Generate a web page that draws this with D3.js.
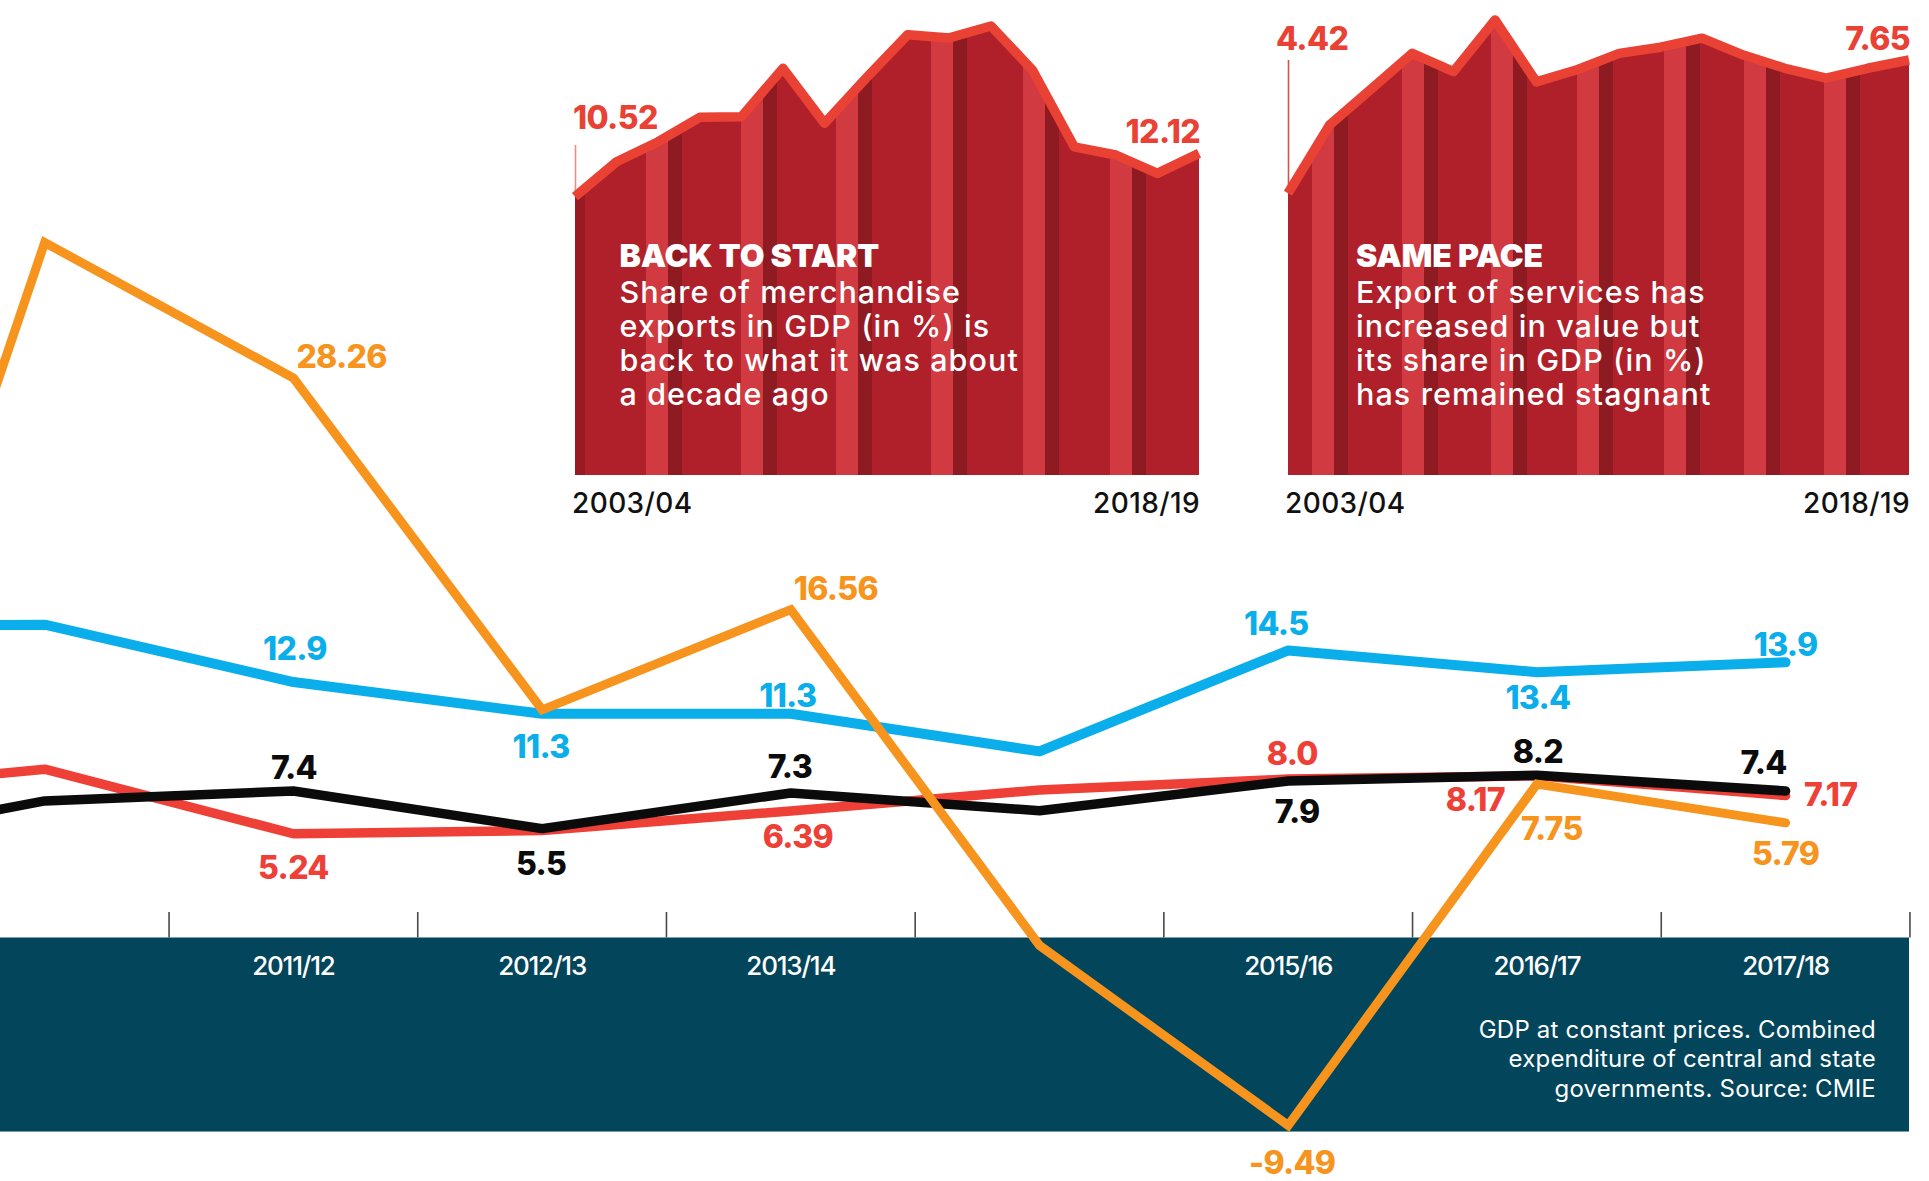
<!DOCTYPE html>
<html>
<head>
<meta charset="utf-8">
<script src="https://cdn.jsdelivr.net/npm/d3@7"></script>
<style>
  html, body { margin: 0; padding: 0; background: #ffffff; }
  svg { display: block; }
  text { font-family: Inter, Roboto, "Noto Sans", sans-serif; }
</style>
</head>
<body>
<svg id="chart" width="1929" height="1181"></svg>
<script>
// ---------- Main chart data (per cent) ----------
const categories = ["2009/10", "2010/11", "2011/12", "2012/13", "2013/14", "2014/15", "2015/16", "2016/17", "2017/18"];
const orangeValues = [-2.0, 35.1, 28.26, 11.5, 16.56, -0.4, -9.49, 7.75, 5.79];
const blueValues   = [15.7, 15.8, 12.9, 11.3, 11.3, 9.4, 14.5, 13.4, 13.9];
const redValues    = [7.3, 8.5, 5.24, 5.4, 6.39, 7.45, 8.0, 8.17, 7.17];
const blackValues  = [4.5, 6.9, 7.4, 5.5, 7.3, 6.4, 7.9, 8.2, 7.4];
const tickCategories  = ["2010/11", "2011/12", "2012/13", "2013/14", "2014/15", "2015/16", "2016/17", "2017/18"];
const axisLabels      = ["2011/12", "2012/13", "2013/14", "2015/16", "2016/17", "2017/18"];
const footnoteLines   = ["GDP at constant prices. Combined", "expenditure of central and state", "governments. Source: CMIE"];

// ---------- Inset data: share in GDP (%) ----------
const insetYears = ["2003/04", "2004/05", "2005/06", "2006/07", "2007/08", "2008/09", "2009/10", "2010/11",
                    "2011/12", "2012/13", "2013/14", "2014/15", "2015/16", "2016/17", "2017/18", "2018/19"];
const merchandiseShare = [10.52, 11.81, 12.55, 13.45, 13.47, 15.26, 13.23, 14.9, 16.5, 16.38, 16.82, 15.19, 12.36, 12.06, 11.38, 12.12];
const servicesShare    = [4.42, 6.07, 6.94, 7.81, 7.37, 8.62, 7.12, 7.42, 7.81, 7.96, 8.18, 7.77, 7.45, 7.21, 7.45, 7.65];
const merchandiseTitle = "BACK TO START";
const merchandiseText  = ["Share of merchandise", "exports in GDP (in %) is", "back to what it was about", "a decade ago"];
const servicesTitle    = "SAME PACE";
const servicesText     = ["Export of services has", "increased in value but", "its share in GDP (in %)", "has remained stagnant"];

// ---------- Styling ----------
const COLORS = {
  orange: "#f6941d", blue: "#0aaeea", red: "#ee4036", black: "#0b0b0b",
  band: "#03455a", tick: "#4a4a4a",
  areaBase: "#b0202a", areaLight: "#d03a40", areaDark: "#8e1a22", areaLine: "#ea4135"
};

const fmtLocale = d3.formatLocale({ decimal: ".", thousands: ",", grouping: [3], currency: ["", ""], minus: "-" });
const fmt = digits => fmtLocale.format(`.${digits}f`);

const svg = d3.select("#chart");

// ---------- Scales for the main chart ----------
const x = d3.scalePoint().domain(categories).range([-204, 1785.6]);
const step = x.step();
const y = d3.scaleLinear().domain([0, 10]).range([937.5, 739.5]);

// Negative zone band
svg.append("rect")
  .attr("x", 0).attr("width", 1909)
  .attr("y", y(0)).attr("height", y(-9.8) - y(0))
  .attr("fill", COLORS.band);

// Ticks between categories
svg.append("g").selectAll("line").data(tickCategories).join("line")
  .attr("x1", d => x(d) + step / 2).attr("x2", d => x(d) + step / 2)
  .attr("y1", 912).attr("y2", y(0))
  .attr("stroke", COLORS.tick).attr("stroke-width", 1.6);

// Category labels inside band
svg.append("g").selectAll("text").data(axisLabels).join("text")
  .attr("x", d => x(d)).attr("y", 975)
  .attr("text-anchor", "middle")
  .attr("fill", "#ffffff")
  .attr("font-size", 26).attr("font-weight", 500).attr("letter-spacing", -1.2)
  .text(d => d);

// Footnote
svg.append("g").selectAll("text").data(footnoteLines).join("text")
  .attr("x", 1876).attr("y", (d, i) => 1038 + i * 29.3)
  .attr("text-anchor", "end")
  .attr("fill", "#ffffff")
  .attr("font-size", 24).attr("font-weight", 400).attr("letter-spacing", 0.2)
  .text(d => d);

// Lines
const series = [
  { key: "blue",   values: blueValues,   width: 10, join: "round" },
  { key: "red",    values: redValues,    width: 9.5, join: "round" },
  { key: "black",  values: blackValues,  width: 9.5, join: "round" },
  { key: "orange", values: orangeValues, width: 9, join: "miter" }
];
const line = d3.line().x((d, i) => x(categories[i])).y(d => y(d));
svg.append("g").selectAll("path").data(series).join("path")
  .attr("d", s => line(s.values))
  .attr("fill", "none")
  .attr("stroke", s => COLORS[s.key])
  .attr("stroke-width", s => s.width)
  .attr("stroke-linejoin", s => s.join)
  .attr("stroke-linecap", "round");

// Value labels: placement relative to each point (baseline offsets)
const valuesByKey = { orange: orangeValues, blue: blueValues, red: redValues, black: blackValues };
const labelPlacement = [
  { key: "orange", cat: "2011/12", digits: 2, anchor: "start",  dx: 3,    dy: -9.5 },
  { key: "blue",   cat: "2011/12", digits: 1, anchor: "middle", dx: 1.5,  dy: -22.5 },
  { key: "black",  cat: "2011/12", digits: 1, anchor: "middle", dx: 0.5,  dy: -12.4 },
  { key: "red",    cat: "2011/12", digits: 2, anchor: "middle", dx: 0,    dy: 45.4 },
  { key: "blue",   cat: "2012/13", digits: 1, anchor: "middle", dx: -1,   dy: 43.8 },
  { key: "black",  cat: "2012/13", digits: 1, anchor: "middle", dx: -1,   dy: 46 },
  { key: "orange", cat: "2013/14", digits: 2, anchor: "start",  dx: 3,    dy: -10 },
  { key: "blue",   cat: "2013/14", digits: 1, anchor: "middle", dx: -3,   dy: -7.2 },
  { key: "black",  cat: "2013/14", digits: 1, anchor: "middle", dx: -1,   dy: -14.7 },
  { key: "red",    cat: "2013/14", digits: 2, anchor: "middle", dx: 7,    dy: 36.6 },
  { key: "blue",   cat: "2015/16", digits: 1, anchor: "middle", dx: -12,  dy: -15.4 },
  { key: "red",    cat: "2015/16", digits: 1, anchor: "middle", dx: 4,    dy: -14 },
  { key: "black",  cat: "2015/16", digits: 1, anchor: "middle", dx: 9,    dy: 41.5 },
  { key: "orange", cat: "2015/16", digits: 2, anchor: "middle", dx: 4,    dy: 48.7 },
  { key: "blue",   cat: "2016/17", digits: 1, anchor: "middle", dx: 1,    dy: 37 },
  { key: "black",  cat: "2016/17", digits: 1, anchor: "middle", dx: 1,    dy: -12.5 },
  { key: "red",    cat: "2016/17", digits: 2, anchor: "end",    dx: -32,  dy: 35 },
  { key: "orange", cat: "2016/17", digits: 2, anchor: "start",  dx: -16,  dy: 55.5 },
  { key: "blue",   cat: "2017/18", digits: 1, anchor: "middle", dx: 0,    dy: -6.7 },
  { key: "black",  cat: "2017/18", digits: 1, anchor: "middle", dx: -22,  dy: -17 },
  { key: "red",    cat: "2017/18", digits: 2, anchor: "start",  dx: 18.5, dy: 10 },
  { key: "orange", cat: "2017/18", digits: 2, anchor: "middle", dx: 0,    dy: 41.7 }
];
svg.append("g").selectAll("text").data(labelPlacement).join("text")
  .attr("x", d => x(d.cat) + d.dx)
  .attr("y", d => y(valuesByKey[d.key][categories.indexOf(d.cat)]) + d.dy)
  .attr("text-anchor", d => d.anchor)
  .attr("fill", d => COLORS[d.key])
  .attr("font-size", 32).attr("font-weight", 800).attr("letter-spacing", -0.7)
  .text(d => fmt(d.digits)(valuesByKey[d.key][categories.indexOf(d.cat)]));

// ---------- Inset area charts ----------
const defs = svg.append("defs");

function drawInset(cfg) {
  const ix = d3.scalePoint().domain(insetYears).range([cfg.left, cfg.right]);
  const iy = d3.scaleLinear().domain(cfg.domain).range(cfg.range);
  const area = d3.area().x((d, i) => ix(insetYears[i])).y0(cfg.bottom).y1(d => iy(d));
  const topLine = d3.line().x((d, i) => ix(insetYears[i])).y(d => iy(d));

  defs.append("clipPath").attr("id", cfg.id)
    .append("path").attr("d", area(cfg.values));

  const g = svg.append("g");
  const body = g.append("g").attr("clip-path", `url(#${cfg.id})`);
  body.append("rect")
    .attr("x", cfg.left).attr("y", 0)
    .attr("width", cfg.right - cfg.left + 2).attr("height", cfg.bottom)
    .attr("fill", COLORS.areaBase);
  if (cfg.edge) {
    body.append("rect").attr("x", cfg.left).attr("y", 0).attr("width", cfg.edge)
      .attr("height", cfg.bottom).attr("fill", COLORS.areaDark).attr("opacity", 0.7);
  }
  cfg.stripes.forEach(o => {
    body.append("rect").attr("x", cfg.left + o).attr("y", 0).attr("width", 22)
      .attr("height", cfg.bottom).attr("fill", COLORS.areaLight);
    body.append("rect").attr("x", cfg.left + o + 22).attr("y", 0).attr("width", 14)
      .attr("height", cfg.bottom).attr("fill", COLORS.areaDark);
  });

  // start marker rule
  g.append("line")
    .attr("x1", cfg.left + 0.5).attr("x2", cfg.left + 0.5)
    .attr("y1", cfg.ruleTop).attr("y2", iy(cfg.values[0]))
    .attr("stroke", cfg.ruleColor).attr("stroke-width", 1.6);

  g.append("path").attr("d", topLine(cfg.values))
    .attr("fill", "none").attr("stroke", COLORS.areaLine)
    .attr("stroke-width", 9.5).attr("stroke-linejoin", "round").attr("stroke-linecap", "butt");

  // first and last values
  g.append("text").attr("x", cfg.firstX).attr("y", cfg.firstY)
    .attr("fill", COLORS.areaLine).attr("font-size", 32).attr("font-weight", 800).attr("letter-spacing", -0.6)
    .text(fmt(2)(cfg.values[0]));
  g.append("text").attr("x", cfg.right + 1).attr("y", cfg.lastY).attr("text-anchor", "end")
    .attr("fill", COLORS.areaLine).attr("font-size", 32).attr("font-weight", 800).attr("letter-spacing", -0.6)
    .text(fmt(2)(cfg.values[cfg.values.length - 1]));

  // year labels below
  g.append("text").attr("x", cfg.left - 3).attr("y", 513)
    .attr("fill", "#111").attr("font-size", 28).attr("font-weight", 500).attr("letter-spacing", 0.4)
    .text(insetYears[0]);
  g.append("text").attr("x", cfg.right + 1).attr("y", 513).attr("text-anchor", "end")
    .attr("fill", "#111").attr("font-size", 28).attr("font-weight", 500).attr("letter-spacing", 0.4)
    .text(insetYears[insetYears.length - 1]);

  // caption: heading and body lines
  g.append("text")
    .attr("x", cfg.textX).attr("y", 266.5)
    .attr("fill", "#ffffff")
    .attr("font-size", 32).attr("font-weight", 900).attr("letter-spacing", -0.1)
    .text(cfg.title);
  g.append("g").selectAll("text").data(cfg.text).join("text")
    .attr("x", cfg.textX)
    .attr("y", (d, i) => 303 + i * 34.1)
    .attr("fill", "#ffffff")
    .attr("font-size", 30.5).attr("font-weight", 500).attr("letter-spacing", 1.1)
    .text(d => d);
}

drawInset({
  id: "clip-merch", values: merchandiseShare, title: merchandiseTitle, text: merchandiseText,
  left: 575, right: 1199, bottom: 475,
  domain: [0, 17], range: [481.8, 21.1],
  stripes: [71, 166, 261, 356, 448, 535], edge: 10,
  ruleTop: 145, ruleColor: "#f08a86",
  firstX: 573, firstY: 128.5, lastY: 142.7, textX: 619.5
});

drawInset({
  id: "clip-serv", values: servicesShare, title: servicesTitle, text: servicesText,
  left: 1288, right: 1909, bottom: 475,
  domain: [0, 9], range: [375.7, 4.3],
  stripes: [24, 114, 203, 289, 376, 456, 536], edge: 0,
  ruleTop: 60, ruleColor: "#d8504c",
  firstX: 1276, firstY: 50, lastY: 50, textX: 1356
});
</script>
</body>
</html>
